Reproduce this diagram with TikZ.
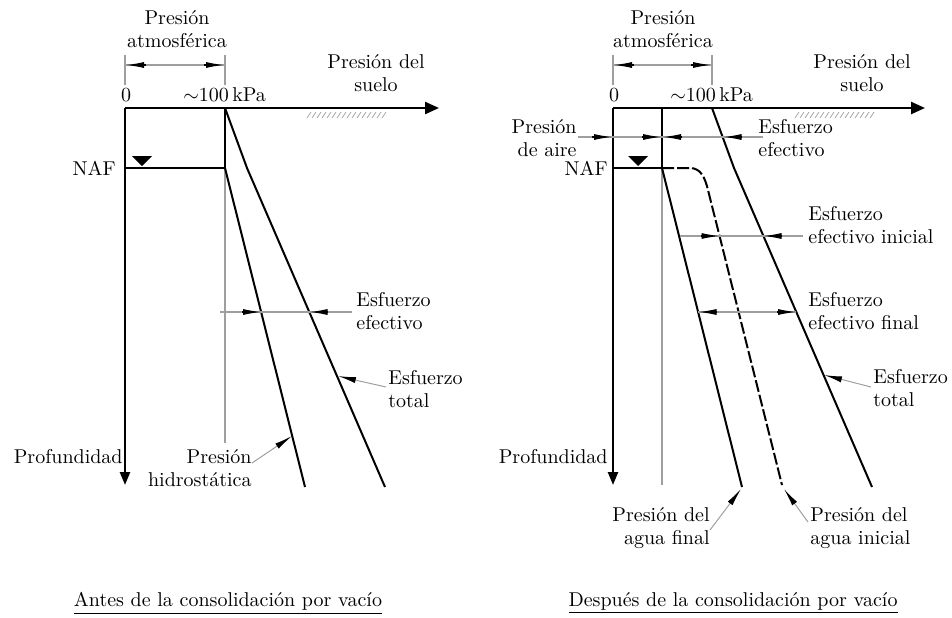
\documentclass[tikz,border=0pt]{standalone}
\usetikzlibrary{arrows.meta}
\tikzset{
 lbl/.style={font=\fontsize{10}{11.5}\selectfont, inner sep=0pt},
 main/.style={line width=1pt, black},
 axisline/.style={line width=1.2pt, black},
 thinline/.style={line width=0.6pt, gray!75},
 tip/.style={line width=0.6pt, black, -{Latex[length=9pt,width=3pt]}},
 ldr/.style={line width=0.5pt, gray!75, -{Latex[length=9pt,width=3pt,color=black]}},
 hatch/.style={line width=0.4pt, gray!70},
 dashcurve/.style={line width=1pt, black, dash pattern=on 6pt off 1.5pt},
 xarrow/.style={-{Triangle[length=7pt,width=6pt]}},
 yarrow/.style={-{Triangle[length=6.5pt,width=5pt]}},
}
\begin{document}
\begin{tikzpicture}[x=0.5pt,y=-0.5pt]
\useasboundingbox (0,0) rectangle (952,617);
% ================= LEFT =================
\coordinate (LO) at (125,108);
\coordinate (LX) at (439,108);
\coordinate (LY) at (125,485);
\coordinate (LA) at (225,108);
\coordinate (LN) at (225,168);
\coordinate (LNo) at (125,168);
\coordinate (LTk) at (247,168);
\coordinate (LT1) at (385,487);
\coordinate (LH1) at (305,487);
\coordinate (LG1) at (225,443);
\draw[axisline, xarrow] (LO) -- (LX);
\draw[axisline, yarrow] (LO) -- (LY);
\draw[main] (LA) -- (LN);
\draw[main] (LNo) -- (LN);
\draw[thinline] (LN) -- (LG1);
\draw[main] (LA) -- (LTk) -- (LT1);
\draw[main] (LN) -- (LH1);
\fill (132,156) -- (152,156) -- (142,166) -- cycle;
\foreach \x in {307,312,...,382} \draw[hatch] (\x,118) -- (\x+4,112);
% atmospheric dimension
\draw[thinline] (125,55) -- (125,85);
\draw[thinline] (225,55) -- (225,85);
\draw[thinline] (125,65) -- (225,65);
\draw[tip] (146,65) -- (126,65);
\draw[tip] (204,65) -- (224,65);
% effective stress
\draw[thinline] (220,312) -- (352,312);
\draw[tip] (242,312) -- (261,312);
\draw[tip] (328,312) -- (309.5,312);
% leaders
\draw[ldr] (386,387) -- (355,380) -- (338,376);
\draw[ldr] (252,463) -- (292,436);
% labels
\node[lbl, align=center] (Latm) at (177,29) {Presión\\atmosférica};
\node[lbl] (L0) at (126,95) {0};
\node[lbl, anchor=west] (L100) at (183,95) {$\sim$100\,kPa};
\node[lbl, align=center] (Lsuelo) at (376,73) {Presión del\\suelo};
\node[lbl, anchor=east] (LNAF) at (116,168) {NAF};
\node[lbl, anchor=east] (Lprof) at (123,457) {Profundidad};
\node[lbl, anchor=east, align=right] (Lhid) at (252,468) {Presión\\hidrostática};
\node[lbl, anchor=west, align=left] (Lef) at (356,311) {Esfuerzo\\efectivo};
\node[lbl, anchor=west, align=left] (Ltot) at (388,389) {Esfuerzo\\total};
\node[lbl] (Ltitle) at (228,603) {\underline{Antes de la consolidación por vacío}};
% ================= RIGHT =================
\coordinate (RO) at (613,108);
\coordinate (RX) at (925,108);
\coordinate (RY) at (613,485);
\coordinate (RA) at (712,108);
\coordinate (RP) at (662,108);
\coordinate (RPN) at (662,168);
\coordinate (RNo) at (613,168);
\coordinate (RTk) at (734,168);
\coordinate (RT1) at (872,487);
\coordinate (RF1) at (742,487);
\coordinate (RG1) at (662,485);
\draw[axisline, xarrow] (RO) -- (RX);
\draw[axisline, yarrow] (RO) -- (RY);
\draw[main] (RP) -- (RPN);
\draw[main] (RNo) -- (RPN);
\draw[thinline] (RPN) -- (RG1);
\draw[main] (RA) -- (RTk) -- (RT1);
\draw[main] (RPN) -- (RF1);
\draw[dashcurve] (RPN) -- (690,168) .. controls (701,168) and (705,178) .. (708,190) -- (782,485);
\fill (628,156) -- (648,156) -- (638,166) -- cycle;
\foreach \x in {795,800,...,870} \draw[hatch] (\x,118) -- (\x+4,112);
% atmospheric dimension
\draw[thinline] (613,55) -- (613,85);
\draw[thinline] (712,55) -- (712,85);
\draw[thinline] (613,65) -- (712,65);
\draw[tip] (634,65) -- (614,65);
\draw[tip] (691,65) -- (711,65);
% air pressure / effective stress row
\draw[thinline] (578,137) -- (763,137);
\draw[tip] (592,137) -- (612,137);
\draw[tip] (642,137) -- (661,137);
\draw[tip] (682,137) -- (663,137);
\draw[tip] (742,137) -- (723.5,137);
% initial effective stress
\draw[thinline] (680,236) -- (803,236);
\draw[tip] (701,236) -- (719.5,236);
\draw[tip] (782,236) -- (763.5,236);
% final effective stress
\draw[thinline] (698,312) -- (796,312);
\draw[tip] (717,312) -- (698.5,312);
\draw[tip] (777,312) -- (796,312);
% leaders
\draw[ldr] (871,387) -- (840,379) -- (824,375);
\draw[ldr] (710,530) -- (741,489);
\draw[ldr] (808,522) -- (784,489);
% labels
\node[lbl, align=center] (Ratm) at (663,29) {Presión\\atmosférica};
\node[lbl] (R0) at (614,95) {0};
\node[lbl, anchor=west] (R100) at (670,95) {$\sim$100\,kPa};
\node[lbl, align=center] (Rsuelo) at (862,73) {Presión del\\suelo};
\node[lbl, anchor=east, align=right] (Raire) at (577,138) {Presión\\de aire};
\node[lbl, anchor=west, align=left] (Ref) at (758,138) {Esfuerzo\\efectivo};
\node[lbl, anchor=east] (RNAF) at (608,168) {NAF};
\node[lbl, anchor=west, align=left] (Refi) at (808,225) {Esfuerzo\\efectivo inicial};
\node[lbl, anchor=west, align=left] (Reff) at (808,311) {Esfuerzo\\efectivo final};
\node[lbl, anchor=west, align=left] (Rtot) at (873,388) {Esfuerzo\\total};
\node[lbl, anchor=east] (Rprof) at (608,457) {Profundidad};
\node[lbl, anchor=east, align=right] (Rfin) at (710,528) {Presión del\\agua final};
\node[lbl, anchor=west, align=left] (Rini) at (810,528) {Presión del\\agua inicial};
\node[lbl] (Rtitle) at (733,603) {\underline{Después de la consolidación por vacío}};
\end{tikzpicture}
\end{document}
